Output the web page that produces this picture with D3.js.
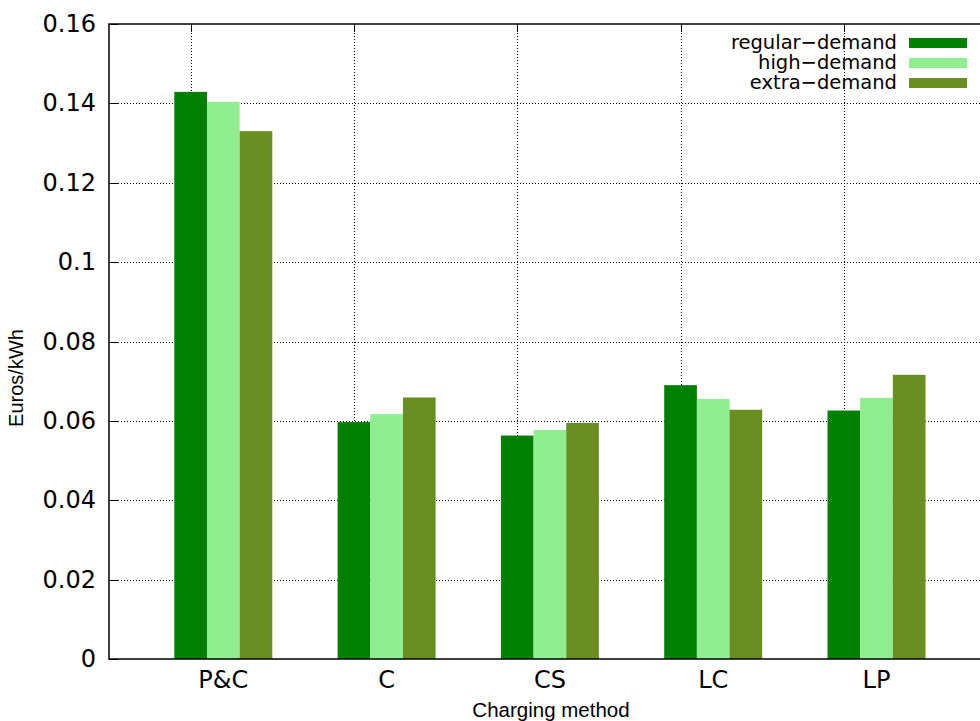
<!DOCTYPE html>
<html>
<head>
<meta charset="utf-8">
<script src="https://cdn.jsdelivr.net/npm/d3@7"></script>
<style>
  body { margin: 0; background: #fff; }
  svg { display: block; }
</style>
</head>
<body>
<div id="chart"></div>
<script>
(function(){
  const width = 980;
  const height = 721;

  const categories = ["P&C", "C", "CS", "LC", "LP"];
  const seriesNames = ["regular\u2212demand", "high\u2212demand", "extra\u2212demand"];
  const seriesColors = ["#008000", "#90ee90", "#6b8e23"];
  const regular = [0.1429, 0.0597, 0.0563, 0.0690, 0.0626];
  const high = [0.1404, 0.0617, 0.0577, 0.0655, 0.0658];
  const extra = [0.1330, 0.0659, 0.0595, 0.0628, 0.0716];
  const yTicks = [0, 0.02, 0.04, 0.06, 0.08, 0.1, 0.12, 0.14, 0.16];

  const series = [regular, high, extra];

  const left = 109, top = 24, bottom = 659;
  const unit = 163.3;           // one cluster width in px
  const barW = 0.2;             // bar width in cluster units

  const x = d3.scaleLinear().domain([-0.5, 4.9]).range([left, left + 5.4 * unit]);
  const y = d3.scaleLinear().domain([0, 0.16]).range([bottom, top]);

  const svg = d3.select("#chart")
    .append("svg")
    .attr("width", width)
    .attr("height", height);

  const tickFont = "'DejaVu Sans', Verdana, sans-serif";
  const titleFont = "'Liberation Sans', Arial, sans-serif";

  // grid
  const grid = svg.append("g")
    .attr("stroke", "#000")
    .attr("stroke-width", 1)
    .attr("stroke-dasharray", "1,2");
  grid.selectAll("line.h")
    .data(yTicks.slice(1, -1))
    .enter().append("line")
    .attr("x1", left).attr("x2", width)
    .attr("y1", d => Math.round(y(d)) + 0.5)
    .attr("y2", d => Math.round(y(d)) + 0.5);
  grid.selectAll("line.v")
    .data(categories)
    .enter().append("line")
    .attr("x1", (d, i) => Math.round(x(i)) + 0.5)
    .attr("x2", (d, i) => Math.round(x(i)) + 0.5)
    .attr("y1", top).attr("y2", bottom);

  // bars
  series.forEach((vals, s) => {
    svg.append("g")
      .selectAll("rect")
      .data(vals)
      .enter().append("rect")
      .attr("x", (d, i) => x(i + (s - 0.5) * barW))
      .attr("width", x(barW) - x(0))
      .attr("y", d => y(d))
      .attr("height", d => y(0) - y(d))
      .attr("fill", seriesColors[s]);
  });

  // border
  svg.append("path")
    .attr("d", `M${width + 5},${top} H${left} V${bottom} H${width + 5}`)
    .attr("fill", "none")
    .attr("stroke", "#000")
    .attr("stroke-width", 1.5);

  // y ticks (inward)
  svg.append("g").selectAll("line")
    .data(yTicks)
    .enter().append("line")
    .attr("x1", left).attr("x2", left + 9)
    .attr("y1", d => Math.round(y(d)) + 0.5)
    .attr("y2", d => Math.round(y(d)) + 0.5)
    .attr("stroke", "#000");

  // top mirror x ticks
  svg.append("g").selectAll("line")
    .data(categories)
    .enter().append("line")
    .attr("x1", (d, i) => Math.round(x(i)) + 0.5)
    .attr("x2", (d, i) => Math.round(x(i)) + 0.5)
    .attr("y1", top).attr("y2", top + 8)
    .attr("stroke", "#000");

  // y tick labels
  svg.append("g").selectAll("text")
    .data(yTicks)
    .enter().append("text")
    .attr("x", 96)
    .attr("y", d => y(d) + 8)
    .attr("text-anchor", "end")
    .style("font-family", tickFont)
    .style("font-size", "24px")
    .text(d => d === 0 ? "0" : String(+d.toFixed(2)));

  // x tick labels
  svg.append("g").selectAll("text")
    .data(categories)
    .enter().append("text")
    .attr("x", (d, i) => x(i + barW))
    .attr("y", 688)
    .attr("text-anchor", "middle")
    .style("font-family", tickFont)
    .style("font-size", "24px")
    .text(d => d);

  // axis titles
  svg.append("text")
    .attr("x", 551)
    .attr("y", 717)
    .attr("text-anchor", "middle")
    .style("font-family", titleFont)
    .style("font-size", "20.5px")
    .text("Charging method");

  svg.append("text")
    .attr("transform", "translate(23,378) rotate(-90)")
    .attr("text-anchor", "middle")
    .style("font-family", titleFont)
    .style("font-size", "20px")
    .text("Euros/kWh");

  // legend
  const legend = svg.append("g");
  seriesNames.forEach((name, s) => {
    const cy = 43 + s * 20;
    legend.append("text")
      .attr("x", 897)
      .attr("y", cy + 6)
      .attr("text-anchor", "end")
      .style("font-family", tickFont)
      .style("font-size", "19.5px")
      .text(name);
    legend.append("rect")
      .attr("x", 909)
      .attr("y", cy - 5)
      .attr("width", 58)
      .attr("height", 10)
      .attr("fill", seriesColors[s]);
  });
})();
</script>
</body>
</html>
